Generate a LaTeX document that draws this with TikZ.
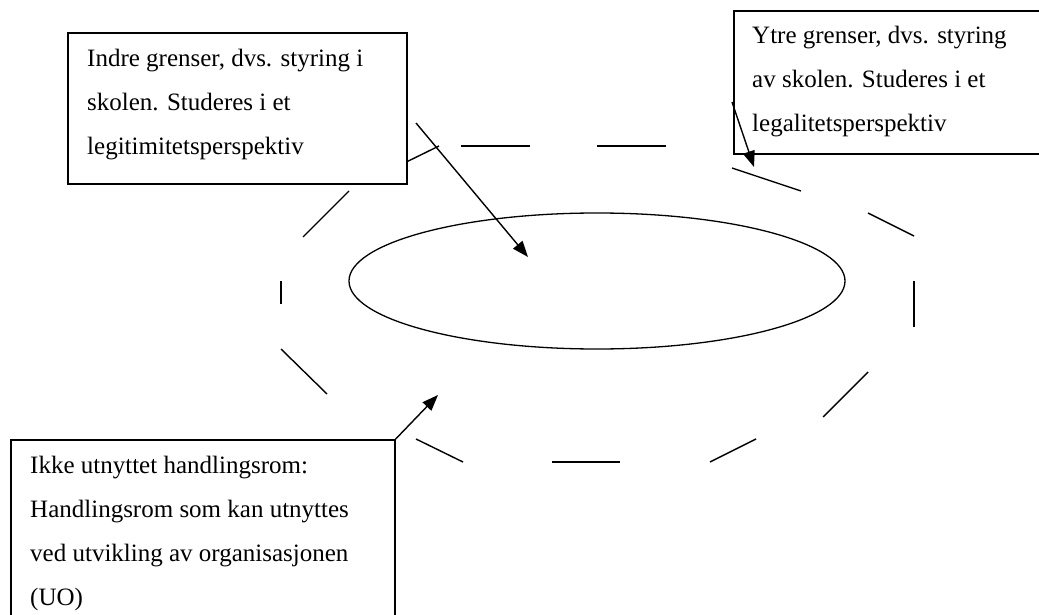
\documentclass[tikz,border=0pt]{standalone}
\usepackage{fontspec}
\setmainfont{Liberation Serif}
\usetikzlibrary{arrows.meta,shapes.geometric}
\tikzset{
  boxnode/.style={draw, fill=white, line width=1.7pt, anchor=north west, inner sep=0pt},
  txt/.style={anchor=base west, inner sep=0pt, font=\fontsize{25pt}{30pt}\selectfont},
  dashseg/.style={line width=1.4pt},
  pointer/.style={line width=1.4pt, -{Triangle[length=16pt,width=12pt]}},
}
\begin{document}
\begin{tikzpicture}[x=1pt,y=-1pt]
\useasboundingbox (0,0) rectangle (1039,615);
% inner ellipse
\node[ellipse, draw, line width=1.3pt, minimum width=496pt, minimum height=136pt, inner sep=0pt] (ell) at (597,281) {};
% dashed outer boundary
\draw[dashseg] (392,169) -- (439,146);
\draw[dashseg] (461,146) -- (530,146);
\draw[dashseg] (597,146) -- (666,146);
\draw[dashseg] (732,168) -- (801,191);
\draw[dashseg] (868,213) -- (914,236);
\draw[dashseg] (914,281) -- (914,327);
\draw[dashseg] (868,372) -- (823,417);
\draw[dashseg] (756,439) -- (710,462);
\draw[dashseg] (620,462) -- (552,462);
\draw[dashseg] (463,462) -- (416,439);
\draw[dashseg] (327,394) -- (281,349);
\draw[dashseg] (281,304) -- (281,281);
\draw[dashseg] (303,237) -- (349,191);
% boxes
\node[boxnode, minimum width=339pt, minimum height=151pt] (tl) at (67,32) {};
\node[boxnode, minimum width=330pt, minimum height=143pt] (tr) at (733,10) {};
\node[boxnode, minimum width=384pt, minimum height=220pt] (bl) at (10,439) {};
% texts
\node[txt] (tl1) at (87,67) {Indre grenser, dvs. styring i};
\node[txt] (tl2) at (87,111) {skolen. Studeres i et};
\node[txt] (tl3) at (87,155) {legitimitetsperspektiv};
\node[txt] (tr1) at (752,44) {Ytre grenser, dvs. styring};
\node[txt] (tr2) at (752,88) {av skolen. Studeres i et};
\node[txt] (tr3) at (752,132) {legalitetsperspektiv};
\node[txt] (bl1) at (30,473) {Ikke utnyttet handlingsrom:};
\node[txt] (bl2) at (30,517) {Handlingsrom som kan utnyttes};
\node[txt] (bl3) at (30,561) {ved utvikling av organisasjonen};
\node[txt] (bl4) at (30,605) {(UO)};
% arrows
\coordinate (a1s) at (416,123);
\coordinate (a1e) at (528,257);
\coordinate (a2s) at (732,102);
\coordinate (a2e) at (754,167);
\coordinate (a3e) at (438,395);
\draw[pointer] (a1s) -- (a1e);
\draw[pointer] (a2s) -- (a2e);
\draw[pointer] (bl.north east) -- (a3e);
\end{tikzpicture}
\end{document}
